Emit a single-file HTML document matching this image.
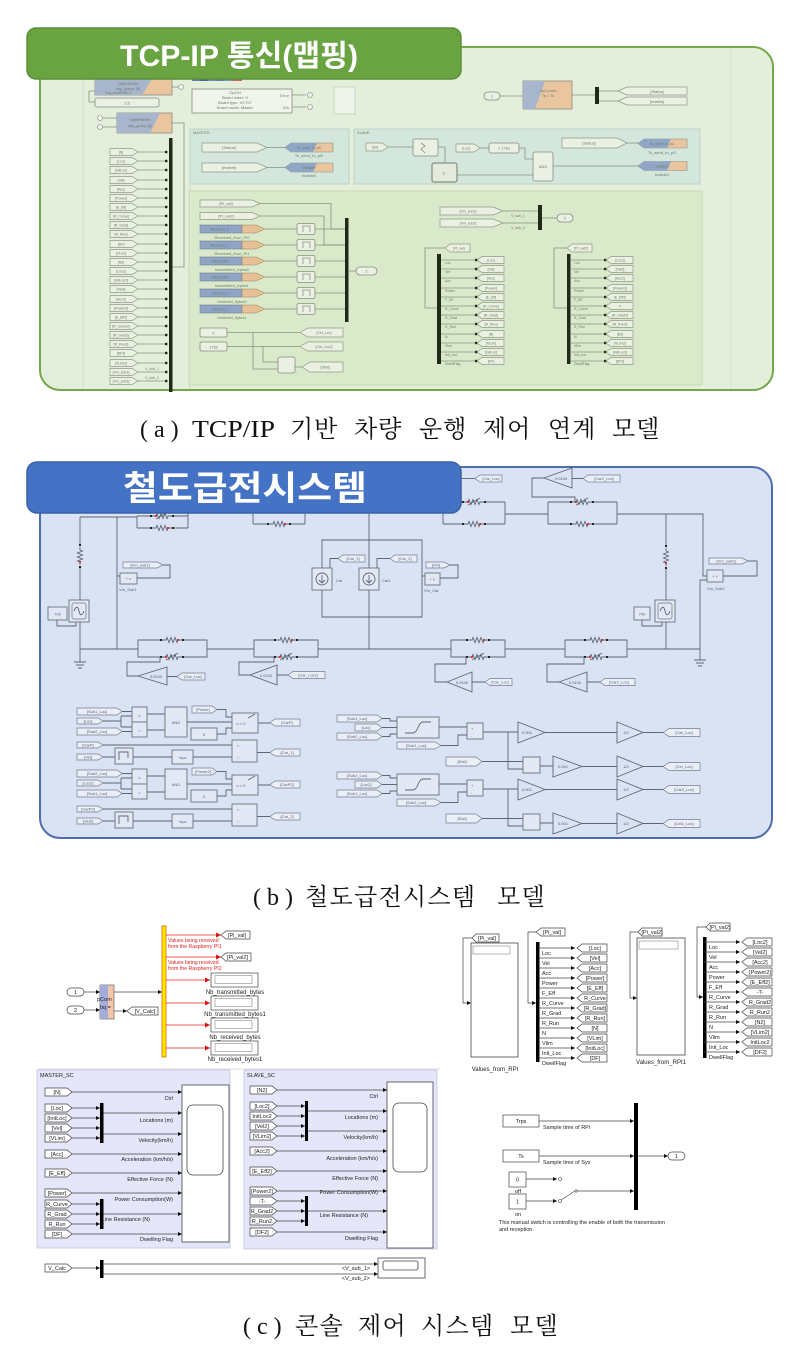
<!DOCTYPE html>
<html><head><meta charset="utf-8"><title>diagram</title>
<style>
html,body{margin:0;padding:0;background:#fff}
svg{display:block}
.cap{font-family:"Liberation Serif","Noto Serif CJK SC",serif;font-size:24px;fill:#111}
.hd{font-family:"Liberation Sans","Noto Sans CJK KR",sans-serif;font-weight:bold;fill:#fff}
.a4{font-size:4px;fill:#6f7a68}
.a35{font-size:3.5px;fill:#6f7a68}
.b4{font-size:4px;fill:#5a6272}
.c5{font-size:5.5px;fill:#222}
.c6{font-size:6px;fill:#222}
.rd{font-size:5.2px;fill:#e02020}
.wa{fill:none;stroke:#869480;stroke-width:0.8}
.wb{fill:none;stroke:#5d6675;stroke-width:0.9}
.wc{fill:none;stroke:#444;stroke-width:0.7}
.tga{fill:#eaf0e2;stroke:#8e9b87;stroke-width:0.7}
.tgb{fill:#e9eef7;stroke:#767e8e;stroke-width:0.7}
.tgc{fill:#fff;stroke:#444;stroke-width:0.7}
.blk{fill:#eaf0e4;stroke:#858d80;stroke-width:0.8}
.bbk{fill:#e3e9f4;stroke:#6a7282;stroke-width:0.9}
</style></head><body>
<svg width="794" height="1366" viewBox="0 0 794 1366" xmlns="http://www.w3.org/2000/svg" font-family="Liberation Sans, sans-serif">
<defs>
 <marker id="ak" viewBox="0 0 6 6" refX="6" refY="3" markerWidth="4" markerHeight="4" markerUnits="userSpaceOnUse" orient="auto"><path d="M0,0L6,3L0,6z" fill="#111"/></marker>
 <marker id="ar" viewBox="0 0 6 6" refX="6" refY="3" markerWidth="5" markerHeight="5" markerUnits="userSpaceOnUse" orient="auto"><path d="M0,0L6,3L0,6z" fill="#e01010"/></marker>
 <g id="tg"><path d="M0,-3.5h22l6,3.5l-6,3.5h-22z" class="tga"/><line x1="28" y1="0" x2="57" y2="0" class="wa"/><rect x="55" y="-1.2" width="2.4" height="2.4" fill="#222"/></g>
 <g id="dt"><line x1="0" y1="0" x2="36" y2="0" class="wa"/><rect x="34" y="-1.2" width="2.4" height="2.4" fill="#222"/><path d="M36,0l5,-3.5h22v7h-22z" class="tga"/></g>
 <g id="rs"><rect x="-8" y="-1.5" width="16" height="3" fill="#dae3f3"/><path d="M-9,0h3l1,-2.5l2,5l2,-5l2,5l2,-5l2,5l1,-2.5h3" class="wb"/><rect x="-12" y="-1" width="2" height="2" fill="#222"/><rect x="10" y="-1" width="2" height="2" fill="#222"/><rect x="5" y="-1" width="2" height="2" fill="#e03030"/></g>
 <g id="rv"><rect x="-8" y="-1.5" width="16" height="3" fill="#dae3f3"/><path d="M-9,0h3l1,-2.5l2,5l2,-5l2,5l2,-5l2,5l1,-2.5h3" class="wb"/><path d="M-6,3L6,-4" class="wb"/><rect x="-12" y="-1" width="2" height="2" fill="#222"/><rect x="10" y="-1" width="2" height="2" fill="#222"/><rect x="-7" y="-1" width="2" height="2" fill="#e03030"/></g>
 <g id="ct"><line x1="0" y1="0" x2="36" y2="0" class="wc" marker-end="url(#ak)"/><path d="M38,0l5,-4h25v8h-25z" class="tgc"/></g>
</defs>

<!-- ================= PART A ================= -->
<rect x="40" y="47" width="733" height="343" rx="20" fill="#e3efda" stroke="#74a84c" stroke-width="2"/>
<line x1="83" y1="79" x2="83" y2="389" stroke="#cadcbc" stroke-width="0.8"/>
<line x1="731" y1="48" x2="731" y2="389" stroke="#d0e2c3" stroke-width="0.8"/>
<line x1="190" y1="184" x2="190" y2="389" stroke="#c5d9b6" stroke-width="0.8"/>
<rect x="190" y="129" width="159" height="55" fill="#d3e7dc" stroke="#b7cfc0" stroke-width="0.8"/>
<rect x="354" y="129" width="346" height="55" fill="#d3e7dc" stroke="#b7cfc0" stroke-width="0.8"/>
<rect x="189" y="191" width="513" height="194" fill="#d9e9c9" stroke="#c2d6b0" stroke-width="0.8"/>

<!-- top-left blocks -->
<rect x="95" y="79" width="77" height="16" fill="#e9c6a0" stroke="#8b8b80" stroke-width="0.8"/>
<polygon points="95,79 152,79 142,95 95,95" fill="#a7b6cc"/>
<text x="128" y="85" class="a4" text-anchor="middle">OpWriteFile</text>
<text x="128" y="90" class="a4" text-anchor="middle">any_group (8)</text>
<text x="118" y="94" class="a35" text-anchor="middle">Trig_level/Path 0</text>
<line x1="172" y1="87" x2="178" y2="87" class="wa"/><circle cx="181" cy="87" r="2.5" fill="#f3f6ee" stroke="#888" stroke-width="0.6"/>
<path d="M95,91H89V102H95" class="wa"/>
<rect x="95" y="98" width="64" height="9" rx="2" class="blk"/><text x="127" y="104.5" class="a4" text-anchor="middle">1.5</text>
<rect x="192" y="77" width="8" height="4" fill="#5a7fb0"/><rect x="200" y="77" width="8" height="4" fill="#45679a"/><rect x="208" y="77" width="8" height="4" fill="#6b8fbf"/><rect x="216" y="77" width="8" height="4" fill="#5a7fb0"/><rect x="224" y="77" width="8" height="4" fill="#7b95b8"/><rect x="232" y="77" width="10" height="4" fill="#d06060"/>
<rect x="192" y="89" width="100" height="24" fill="#f0f4ea" stroke="#8b8b80" stroke-width="0.8"/>
<text x="235" y="94" class="a4" text-anchor="middle">OpCtrl</text>
<text x="235" y="99" class="a4" text-anchor="middle">Board index: 0</text>
<text x="235" y="104" class="a4" text-anchor="middle">Board type: VC707</text>
<text x="235" y="109" class="a4" text-anchor="middle">Board mode: Master</text>
<text x="289" y="97" class="a4" text-anchor="end">Error</text><text x="289" y="109" class="a4" text-anchor="end">IDs</text>
<path d="M292,95H306M292,107H306" class="wa"/>
<circle cx="310" cy="95" r="2.5" fill="#f3f6ee" stroke="#888" stroke-width="0.6"/><circle cx="310" cy="107" r="2.5" fill="#f3f6ee" stroke="#888" stroke-width="0.6"/>
<rect x="334" y="87" width="21" height="27" fill="#eef4ea" stroke="#c2cfba" stroke-width="0.8"/>
<rect x="117" y="113" width="55" height="20" fill="#e9c6a0" stroke="#8b8b80" stroke-width="0.8"/>
<polygon points="117,113 160,113 150,133 117,133" fill="#a7b6cc"/>
<text x="140" y="121" class="a4" text-anchor="middle">OpWriteFile</text><text x="140" y="127" class="a4" text-anchor="middle">any_group (8)</text>
<circle cx="100" cy="118" r="2.5" fill="#f3f6ee" stroke="#888" stroke-width="0.6"/><circle cx="100" cy="127" r="2.5" fill="#f3f6ee" stroke="#888" stroke-width="0.6"/>
<path d="M103,118H117M103,127H117" class="wa"/>
<path d="M172,123H184V267H172" class="wa"/>

<!-- column of tags -->
<use href="#tg" x="110" y="152"/><use href="#tg" x="110" y="161"/><use href="#tg" x="110" y="170"/><use href="#tg" x="110" y="180"/><use href="#tg" x="110" y="189"/><use href="#tg" x="110" y="198"/><use href="#tg" x="110" y="207"/><use href="#tg" x="110" y="216"/><use href="#tg" x="110" y="225"/><use href="#tg" x="110" y="234"/><use href="#tg" x="110" y="244"/><use href="#tg" x="110" y="253"/><use href="#tg" x="110" y="262"/><use href="#tg" x="110" y="271"/><use href="#tg" x="110" y="280"/><use href="#tg" x="110" y="289"/><use href="#tg" x="110" y="299"/><use href="#tg" x="110" y="308"/><use href="#tg" x="110" y="317"/><use href="#tg" x="110" y="326"/><use href="#tg" x="110" y="335"/><use href="#tg" x="110" y="344"/><use href="#tg" x="110" y="353"/><use href="#tg" x="110" y="363"/><use href="#tg" x="110" y="372"/><use href="#tg" x="110" y="381"/>
<g class="a35" text-anchor="middle">
<text x="121" y="153.3">[N]</text><text x="121" y="162.3">[Loc]</text><text x="121" y="171.3">[InitLoc]</text><text x="121" y="181.3">[Vel]</text><text x="121" y="190.3">[Acc]</text><text x="121" y="199.3">[Power]</text><text x="121" y="208.3">[E_Eff]</text><text x="121" y="217.3">[R_Curve]</text><text x="121" y="226.3">[R_Grad]</text><text x="121" y="235.3">[R_Run]</text><text x="121" y="245.3">[DF]</text><text x="121" y="254.3">[VLim]</text><text x="121" y="263.3">[N2]</text><text x="121" y="272.3">[Loc2]</text><text x="121" y="281.3">[InitLoc2]</text><text x="121" y="290.3">[Vel2]</text><text x="121" y="300.3">[Acc2]</text><text x="121" y="309.3">[Power2]</text><text x="121" y="318.3">[E_Eff2]</text><text x="121" y="327.3">[R_Curve2]</text><text x="121" y="336.3">[R_Grad2]</text><text x="121" y="345.3">[R_Run2]</text><text x="121" y="354.3">[DF2]</text><text x="121" y="364.3">[VLim2]</text><text x="121" y="373.3">[Vm_sub1]</text><text x="121" y="382.3">[Vm_sub2]</text>
<text x="152" y="370">V_sub_1</text><text x="152" y="379">V_sub_2</text>
</g>
<rect x="169" y="138" width="3.5" height="254" fill="#1f2b18"/>

<!-- MASTER -->
<text x="193" y="134" class="a4">MASTER</text>
<path d="M202,143h55l10,4.5l-10,4.5h-55z" class="tga"/><text x="229" y="149" class="a4" text-anchor="middle">[Status]</text>
<path d="M267,147.5H285" class="wa"/>
<path d="M285,147.5l6,-4.5h42v9h-42z" fill="#e9c6a0" stroke="#8b8b80" stroke-width="0.6"/><path d="M285,147.5l6,-4.5h26l-4,9h-22z" fill="#8fa6c6"/>
<text x="309" y="149" class="a35" text-anchor="middle">To_send_to_pi0</text><text x="309" y="157" class="a4" text-anchor="middle">To_send_to_pi0</text>
<path d="M202,163h55l10,4.5l-10,4.5h-55z" class="tga"/><text x="229" y="169" class="a4" text-anchor="middle">[enable]</text>
<path d="M267,167.5H285" class="wa"/>
<path d="M285,167.5l6,-4.5h42v9h-42z" fill="#e9c6a0" stroke="#8b8b80" stroke-width="0.6"/><path d="M285,167.5l6,-4.5h26l-4,9h-22z" fill="#8fa6c6"/>
<text x="309" y="169" class="a35" text-anchor="middle">enable0</text><text x="309" y="177" class="a4" text-anchor="middle">enable0</text>

<!-- SLAVE -->
<text x="357" y="134" class="a4">SLAVE</text>
<path d="M366,143h16l6,4l-6,4h-16z" class="tga"/><text x="375" y="148.5" class="a35" text-anchor="middle">[S0]</text>
<path d="M388,147H413" class="wa"/>
<rect x="413" y="139" width="25" height="17" rx="2" class="blk"/><path d="M421,143l4,3l-4,3l4,4" class="wa"/>
<path d="M438,147H445V163" class="wa"/>
<rect x="432" y="163" width="25" height="19" rx="2" fill="#e4ebdd" stroke="#707a6b" stroke-width="1"/><text x="444" y="175" class="a4" text-anchor="middle">F</text>
<path d="M457,175H533" class="wa"/>
<path d="M456,144h18l6,4l-6,4h-18z" class="tga"/><text x="466" y="149.5" class="a35" text-anchor="middle">[Loc]</text>
<path d="M480,148H489" class="wa"/>
<rect x="489" y="143" width="30" height="10" rx="2" class="blk"/><text x="504" y="149.5" class="a4" text-anchor="middle">&gt; 1781</text>
<path d="M519,148H525V159H533" class="wa"/>
<rect x="533" y="152" width="20" height="29" rx="2" class="blk"/><text x="543" y="168" class="a4" text-anchor="middle">AND</text>
<path d="M553,166H638" class="wa"/>
<path d="M562,138h55l10,5l-10,5h-55z" class="tga"/><text x="589" y="144.5" class="a4" text-anchor="middle">[Status]</text>
<path d="M627,143H638" class="wa"/>
<path d="M638,143.5l6,-4.5h43v9h-43z" fill="#e9c6a0" stroke="#8b8b80" stroke-width="0.6"/><path d="M638,143.5l6,-4.5h27l-4,9h-23z" fill="#8fa6c6"/>
<text x="662" y="145" class="a35" text-anchor="middle">To_send_to_pi1</text><text x="662" y="154" class="a4" text-anchor="middle">To_send_to_pi1</text>
<path d="M638,166l6,-4.5h43v9h-43z" fill="#e9c6a0" stroke="#8b8b80" stroke-width="0.6"/><path d="M638,166l6,-4.5h27l-4,9h-23z" fill="#8fa6c6"/>
<text x="662" y="167.5" class="a35" text-anchor="middle">enable1</text><text x="662" y="176" class="a4" text-anchor="middle">enable1</text>

<!-- top right -->
<rect x="484" y="92" width="16" height="8" rx="4" class="blk"/><text x="492" y="97.5" class="a4" text-anchor="middle">1</text>
<path d="M500,96H523" class="wa"/>
<rect x="523" y="81" width="49" height="28" fill="#e9c6a0" stroke="#8b8b80" stroke-width="0.8"/>
<polygon points="523,81 545,81 535,109 523,109" fill="#a7b6cc"/>
<text x="548" y="92" class="a4" text-anchor="middle">OpComm</text><text x="548" y="97" class="a4" text-anchor="middle">Ts = Ts</text>
<path d="M572,95H595" class="wa"/>
<rect x="595" y="87" width="4" height="17" fill="#1f2b18"/>
<path d="M599,91H618M599,101H618" class="wa"/>
<path d="M618,91l9,-4h60v8h-60z" class="tga"/><text x="657" y="93" class="a4" text-anchor="middle">[Status]</text>
<path d="M618,101l9,-4h60v8h-60z" class="tga"/><text x="657" y="103" class="a4" text-anchor="middle">[enable]</text>

<!-- lower box left -->
<path d="M200,200h52l8,3.5l-8,3.5h-52z" class="tga"/><text x="226" y="205" class="a4" text-anchor="middle">[Pi_val]</text>
<path d="M260,203.5H331V229H345" class="wa"/>
<path d="M200,212.5h52l8,3.5l-8,3.5h-52z" class="tga"/><text x="226" y="217.5" class="a4" text-anchor="middle">[Pi_val2]</text>
<path d="M260,216H324V245H345" class="wa"/>
<g>
<rect x="200" y="225" width="42" height="8" fill="#8ea5c5" stroke="#6f7f90" stroke-width="0.6"/><path d="M242,225h14l9,4l-9,4h-14z" fill="#e6bf95" stroke="#a08060" stroke-width="0.5"/>
<rect x="200" y="241" width="42" height="8" fill="#8ea5c5" stroke="#6f7f90" stroke-width="0.6"/><path d="M242,241h14l9,4l-9,4h-14z" fill="#e6bf95" stroke="#a08060" stroke-width="0.5"/>
<rect x="200" y="257" width="42" height="8" fill="#8ea5c5" stroke="#6f7f90" stroke-width="0.6"/><path d="M242,257h14l9,4l-9,4h-14z" fill="#e6bf95" stroke="#a08060" stroke-width="0.5"/>
<rect x="200" y="273" width="42" height="8" fill="#8ea5c5" stroke="#6f7f90" stroke-width="0.6"/><path d="M242,273h14l9,4l-9,4h-14z" fill="#e6bf95" stroke="#a08060" stroke-width="0.5"/>
<rect x="200" y="289" width="42" height="8" fill="#8ea5c5" stroke="#6f7f90" stroke-width="0.6"/><path d="M242,289h14l9,4l-9,4h-14z" fill="#e6bf95" stroke="#a08060" stroke-width="0.5"/>
<rect x="200" y="305" width="42" height="8" fill="#8ea5c5" stroke="#6f7f90" stroke-width="0.6"/><path d="M242,305h14l9,4l-9,4h-14z" fill="#e6bf95" stroke="#a08060" stroke-width="0.5"/>
</g>
<g class="a35" text-anchor="middle" fill="#445">
<text x="220" y="230.5">Received_0</text><text x="220" y="246.5">Received_1</text><text x="220" y="262.5">transmitted</text><text x="220" y="278.5">transmitted</text><text x="220" y="294.5">received_0</text><text x="220" y="310.5">received_1</text>
</g>
<g class="a4" text-anchor="middle">
<text x="232" y="239">Received_from_Pi0</text><text x="232" y="255">Received_from_Pi1</text><text x="232" y="271">transmitted_bytes0</text><text x="232" y="287">transmitted_bytes1</text><text x="232" y="303">received_bytes0</text><text x="232" y="319">received_bytes1</text>
</g>
<path d="M265,229H297M265,245H297M265,261H297M265,277H297M265,293H297M265,309H297" class="wa"/>
<path d="M315,229H345M315,245H345M315,261H345M315,277H345M315,293H345M315,309H345" class="wa"/>
<g>
<rect x="297" y="223.5" width="18" height="11" rx="2" class="blk"/><rect x="297" y="239.5" width="18" height="11" rx="2" class="blk"/><rect x="297" y="255.5" width="18" height="11" rx="2" class="blk"/><rect x="297" y="271.5" width="18" height="11" rx="2" class="blk"/><rect x="297" y="287.5" width="18" height="11" rx="2" class="blk"/><rect x="297" y="303.5" width="18" height="11" rx="2" class="blk"/>
<path d="M303,232V226H310V232M303,248V242H310V248M303,264V258H310V264M303,280V274H310V280M303,296V290H310V296M303,312V306H310V312" class="wa"/>
</g>
<rect x="345" y="218" width="3.5" height="104" fill="#1f2b18"/>
<path d="M348,271H356" class="wa"/><rect x="356" y="267" width="21" height="8" rx="4" class="blk"/><text x="366.5" y="272.5" class="a4" text-anchor="middle">1</text>
<rect x="200" y="328" width="27" height="9" rx="1.5" class="blk"/><text x="213.5" y="334.3" class="a4" text-anchor="middle">0</text>
<rect x="200" y="342" width="27" height="9" rx="1.5" class="blk"/><text x="213.5" y="348.3" class="a4" text-anchor="middle">1781</text>
<path d="M227,332.5H300M227,346.5H300M253,332.5V369H278M263,346.5V362H278" class="wa"/>
<path d="M300,332.5l8,-4.5h35v9h-35z" class="tga"/><text x="324" y="334" class="a35" text-anchor="middle">[Ctrl_Loc]</text>
<path d="M300,346.5l8,-4.5h35v9h-35z" class="tga"/><text x="324" y="348" class="a35" text-anchor="middle">[Ctrl_Loc2]</text>
<rect x="278" y="357" width="17" height="16" rx="2" class="blk"/>
<path d="M295,367H302" class="wa"/><path d="M302,367l8,-5h33v10h-33z" class="tga"/><text x="325" y="368.5" class="a4" text-anchor="middle">[Stat]</text>

<!-- lower box right -->
<path d="M440,207h53l10,4l-10,4h-53z" class="tga"/><text x="468" y="212.5" class="a35" text-anchor="middle">[Vm_sub1]</text>
<path d="M440,219h53l10,4l-10,4h-53z" class="tga"/><text x="468" y="224.5" class="a35" text-anchor="middle">[Vm_sub2]</text>
<path d="M503,211H538M503,223H538" class="wa"/>
<text x="518" y="217" class="a35" text-anchor="middle">V_sub_1</text><text x="518" y="229" class="a35" text-anchor="middle">V_sub_2</text>
<rect x="538" y="205" width="4" height="25" fill="#1f2b18"/>
<path d="M542,218H557" class="wa"/><rect x="557" y="214" width="16" height="8" rx="4" class="blk"/><text x="565" y="219.5" class="a4" text-anchor="middle">2</text>

<path d="M445,248l5,-4h20v8h-20z" class="tga"/><text x="459" y="249.5" class="a35" text-anchor="middle">[Pi_val]</text>
<path d="M445,248H425V308H437" class="wa"/>
<rect x="437" y="254" width="4" height="110" fill="#1f2b18"/>
<use href="#dt" x="441" y="260"/><use href="#dt" x="441" y="269"/><use href="#dt" x="441" y="278"/><use href="#dt" x="441" y="288"/><use href="#dt" x="441" y="297"/><use href="#dt" x="441" y="306"/><use href="#dt" x="441" y="315"/><use href="#dt" x="441" y="324"/><use href="#dt" x="441" y="334"/><use href="#dt" x="441" y="343"/><use href="#dt" x="441" y="352"/><use href="#dt" x="441" y="361"/>
<path d="M567,248l5,-4h20v8h-20z" class="tga"/><text x="581" y="249.5" class="a35" text-anchor="middle">[Pi_val2]</text>
<path d="M567,248H554V308H567" class="wa"/>
<rect x="567" y="254" width="3.5" height="110" fill="#1f2b18"/>
<use href="#dt" x="570" y="260"/><use href="#dt" x="570" y="269"/><use href="#dt" x="570" y="278"/><use href="#dt" x="570" y="288"/><use href="#dt" x="570" y="297"/><use href="#dt" x="570" y="306"/><use href="#dt" x="570" y="315"/><use href="#dt" x="570" y="324"/><use href="#dt" x="570" y="334"/><use href="#dt" x="570" y="343"/><use href="#dt" x="570" y="352"/><use href="#dt" x="570" y="361"/>
<g class="a35">
<text x="445" y="264">Loc</text><text x="445" y="273">Vel</text><text x="445" y="282">Acc</text><text x="445" y="292">Power</text><text x="445" y="301">F_Eff</text><text x="445" y="310">R_Curve</text><text x="445" y="319">R_Grad</text><text x="445" y="328">R_Run</text><text x="445" y="338">N</text><text x="445" y="347">Vlim</text><text x="445" y="356">Init_Loc</text><text x="445" y="365">DwellFlag</text>
<text x="574" y="264">Loc</text><text x="574" y="273">Vel</text><text x="574" y="282">Acc</text><text x="574" y="292">Power</text><text x="574" y="301">F_Eff</text><text x="574" y="310">R_Curve</text><text x="574" y="319">R_Grad</text><text x="574" y="328">R_Run</text><text x="574" y="338">N</text><text x="574" y="347">Vlim</text><text x="574" y="356">Init_Loc</text><text x="574" y="365">DwellFlag</text>
</g>
<g class="a35" text-anchor="middle">
<text x="491" y="261.3">[Loc]</text><text x="491" y="270.3">[Vel]</text><text x="491" y="279.3">[Acc]</text><text x="491" y="289.3">[Power]</text><text x="491" y="298.3">[E_Eff]</text><text x="491" y="307.3">[R_Curve]</text><text x="491" y="316.3">[R_Grad]</text><text x="491" y="325.3">[R_Run]</text><text x="491" y="335.3">[N]</text><text x="491" y="344.3">[VLim]</text><text x="491" y="353.3">[InitLoc]</text><text x="491" y="362.3">[DF]</text>
<text x="620" y="261.3">[Loc2]</text><text x="620" y="270.3">[Vel2]</text><text x="620" y="279.3">[Acc2]</text><text x="620" y="289.3">[Power2]</text><text x="620" y="298.3">[E_Eff2]</text><text x="620" y="307.3">-T-</text><text x="620" y="316.3">[R_Grad2]</text><text x="620" y="325.3">[R_Run2]</text><text x="620" y="335.3">[N2]</text><text x="620" y="344.3">[VLim2]</text><text x="620" y="353.3">[InitLoc2]</text><text x="620" y="362.3">[DF2]</text>
</g>

<!-- Green tab -->
<rect x="27" y="28" width="434" height="51" rx="9" fill="#6aa442" stroke="#5a8f38" stroke-width="1.5"/>
<text x="239" y="66" class="hd" font-size="30" text-anchor="middle" textLength="238" lengthAdjust="spacingAndGlyphs">TCP-IP 통신(맵핑)</text>

<g class="cap">
<text x="140" y="437" letter-spacing="6">(a)</text>
<text x="192" y="437" textLength="83" lengthAdjust="spacingAndGlyphs">TCP/IP</text>
<text x="290" y="437" letter-spacing="1">기반</text>
<text x="354" y="437" letter-spacing="1">차량</text>
<text x="419" y="437" letter-spacing="1">운행</text>
<text x="483" y="437" letter-spacing="1">제어</text>
<text x="548" y="437" letter-spacing="1">연계</text>
<text x="612" y="437" letter-spacing="1">모델</text>
</g>

<!-- ================= PART B ================= -->
<rect x="40" y="467" width="732" height="371" rx="20" fill="#dae3f3" stroke="#4d6dac" stroke-width="2"/>

<!-- top circuit -->
<path d="M80,517H137M137,516V528M188,516V528M188,516V508H253M253,503V524M305,503V524M305,508H443M443,502V524M505,502V524M505,514H548M548,502V524M617,502V524M617,514H703V576H707" class="wb"/>
<path d="M137,516H188M137,528H188M253,503H305M253,524H305M443,502H505M443,524H505M548,502H617M548,524H617" class="wb"/>
<use href="#rv" x="162" y="516"/><use href="#rs" x="162" y="528"/>
<use href="#rs" x="279" y="503"/><use href="#rs" x="279" y="524"/>
<use href="#rv" x="474" y="502"/><use href="#rs" x="474" y="524"/>
<use href="#rv" x="582" y="502"/><use href="#rs" x="582" y="524"/>
<polygon points="544,478 572,468 572,488" class="wb" fill="#dae3f3"/><text x="561" y="480" class="b4" text-anchor="middle">0.0100</text>
<path d="M572,478.5H583M544,478H532V497H575V502" class="wb"/>
<path d="M583,478.5l5,-3.5h32v7h-32z" class="tgb"/><text x="604" y="480" class="b4" text-anchor="middle">[Car2_Loc]</text>
<path d="M461,478.5H475" class="wb"/>
<path d="M475,478.5l5,-3.5h22v7h-22z" class="tgb"/><text x="491" y="480" class="b4" text-anchor="middle">[Car_Loc]</text>

<!-- left source -->
<path d="M80,517V545M80,568V600M80,622V662" class="wb"/>
<use href="#rs" x="80" y="556" transform="rotate(90 80 556)"/>
<rect x="69" y="600" width="20" height="22" class="bbk"/><rect x="72" y="603" width="14" height="16" rx="2" fill="none" stroke="#6a7282" stroke-width="0.7"/>
<path d="M74,611c2,-5 4,-5 5,0s3,5 5,0" class="wb"/>
<rect x="48" y="607" width="19" height="13" class="bbk"/><text x="57.5" y="615.5" class="b4" text-anchor="middle">700</text>
<path d="M57,620V626H76V622" class="wb"/>
<path d="M74,662H86M76,665H84M78,668H82" class="wb"/>
<path d="M117,517V649M117,576H120" class="wb"/>
<rect x="120" y="573" width="17" height="11" class="bbk"/><text x="128" y="580" class="b4" text-anchor="middle">+ v</text>
<path d="M123,562h34l6,3l-6,3h-34z" class="tgb"/><text x="140" y="566.5" class="b4" text-anchor="middle">[Vm_sub1]</text>
<path d="M163,565H170V578H137" class="wb"/>
<text x="119" y="591" class="b4">Vm_Sub1</text>

<!-- cars -->
<path d="M322,568V540H422V617H322V590M369,513V568M369,590V649" class="wb"/>
<rect x="312" y="568" width="20" height="22" class="bbk"/><circle cx="322" cy="579" r="6" class="wb" fill="#eef2f9"/><path d="M322,575V583M319,580l3,3l3,-3" class="wb"/>
<rect x="359" y="568" width="20" height="22" class="bbk"/><circle cx="369" cy="579" r="6" class="wb" fill="#eef2f9"/><path d="M369,575V583M366,580l3,3l3,-3" class="wb"/>
<text x="336" y="582" class="b4">Car</text><text x="382" y="582" class="b4">Car1</text>
<path d="M338,558.5l5,-3.5h22v7h-22z" class="tgb"/><text x="353" y="560" class="b4" text-anchor="middle">[Car_1]</text>
<path d="M338,558.5H330V568" class="wb"/>
<path d="M390,558.5l5,-3.5h22v7h-22z" class="tgb"/><text x="405" y="560" class="b4" text-anchor="middle">[Car_2]</text>
<path d="M390,558.5H377V568" class="wb"/>
<path d="M422,576H425" class="wb"/>
<rect x="425" y="573" width="15" height="12" class="bbk"/><text x="432" y="580.5" class="b4" text-anchor="middle">+ v</text>
<path d="M426,562h18l6,3l-6,3h-18z" class="tgb"/><text x="436" y="566.5" class="b4" text-anchor="middle">[Vm]</text>
<path d="M450,565H458V578H440" class="wb"/>
<text x="424" y="592" class="b4">Vm_Car</text>

<!-- right source -->
<path d="M666,514V545M666,568V600M666,622V649" class="wb"/>
<use href="#rs" x="666" y="557" transform="rotate(90 666 557)"/>
<rect x="655" y="600" width="20" height="22" class="bbk"/><rect x="658" y="603" width="14" height="16" rx="2" fill="none" stroke="#6a7282" stroke-width="0.7"/>
<path d="M660,611c2,-5 4,-5 5,0s3,5 5,0" class="wb"/>
<rect x="634" y="607" width="16" height="13" class="bbk"/><text x="642" y="615.5" class="b4" text-anchor="middle">700</text>
<path d="M642,620V626H662V622" class="wb"/>
<rect x="707" y="570" width="16" height="12" class="bbk"/><text x="715" y="577.5" class="b4" text-anchor="middle">+ v</text>
<path d="M709,558h33l6,3l-6,3h-33z" class="tgb"/><text x="726" y="562.5" class="b4" text-anchor="middle">[Vm_sub2]</text>
<path d="M748,561H757V576H723M700,580V660M700,580H707" class="wb"/>
<text x="707" y="590" class="b4">Vm_Sub2</text>
<path d="M694,660H706M696,663H704M698,666H702" class="wb"/>

<!-- bottom circuit -->
<path d="M80,649H138M207,649H254M318,649H451M505,649H565M627,649H700" class="wb"/>
<path d="M138,640V657H207V640ZM254,640V657H318V640ZM451,640V657H505V640ZM565,640V657H627V640Z" class="wb"/>
<use href="#rs" x="172" y="640"/><use href="#rv" x="172" y="657"/>
<use href="#rs" x="286" y="640"/><use href="#rv" x="286" y="657"/>
<use href="#rs" x="478" y="640"/><use href="#rv" x="478" y="657"/>
<use href="#rs" x="596" y="640"/><use href="#rv" x="596" y="657"/>
<polygon points="138,676 167,667 167,685" class="wb" fill="#dae3f3"/><text x="156" y="678" class="b4" text-anchor="middle">0.0100</text>
<path d="M167,676.5H177M138,676H127V662H160V657" class="wb"/>
<path d="M177,676.5l5,-3.5h23v7h-23z" class="tgb"/><text x="193" y="678" class="b4" text-anchor="middle">[Car_Loc]</text>
<polygon points="250,675 277,665 277,685" class="wb" fill="#dae3f3"/><text x="266" y="677" class="b4" text-anchor="middle">0.0100</text>
<path d="M277,675H288M250,675H239V662H274V657" class="wb"/>
<path d="M288,675l5,-3.5h32v7h-32z" class="tgb"/><text x="308" y="676.5" class="b4" text-anchor="middle">[Car_Loc2]</text>
<polygon points="447,682 472,672 472,692" class="wb" fill="#dae3f3"/><text x="462" y="684" class="b4" text-anchor="middle">0.0100</text>
<path d="M472,682H485M447,682H435V664H466V657" class="wb"/>
<path d="M485,682l5,-3.5h22v7h-22z" class="tgb"/><text x="500" y="683.5" class="b4" text-anchor="middle">[Car_Loc]</text>
<polygon points="559,682 587,672 587,692" class="wb" fill="#dae3f3"/><text x="575" y="684" class="b4" text-anchor="middle">0.0100</text>
<path d="M587,682H600M559,682H547V664H584V657" class="wb"/>
<path d="M600,682l5,-3.5h30v7h-30z" class="tgb"/><text x="619" y="683.5" class="b4" text-anchor="middle">[Car2_Loc]</text>

<!-- lower logic left (two sets) -->
<g>
<path d="M77,708h40l5,3.5l-5,3.5h-40z" class="tgb"/><text x="97" y="713" class="b4" text-anchor="middle">[Sub1_Loc]</text>
<path d="M77,718h21l5,3l-5,3h-21z" class="tgb"/><text x="88" y="722.5" class="b4" text-anchor="middle">[Loc]</text>
<path d="M77,728h40l5,3.5l-5,3.5h-40z" class="tgb"/><text x="97" y="733" class="b4" text-anchor="middle">[Sub2_Loc]</text>
<path d="M122,711.5H132M103,721H121M121,716V727M121,716H132M121,727H132M122,731.5H132M147,714H165M147,730H165M187,722H232M217,709.5H226V717H232M217,734H226V728H232M258,723H270" class="wb"/>
<rect x="132" y="707" width="15" height="15" class="bbk"/><text x="139.5" y="717" class="b4" text-anchor="middle">≤</text>
<rect x="132" y="722" width="15" height="15" class="bbk"/><text x="139.5" y="732" class="b4" text-anchor="middle">&lt;</text>
<rect x="165" y="707" width="22" height="30" class="bbk"/><text x="176" y="724" class="b4" text-anchor="middle">AND</text>
<path d="M192,706h20l5,3.5l-5,3.5h-20z" class="tgb"/><text x="203" y="711" class="b4" text-anchor="middle">[Power]</text>
<rect x="191" y="728" width="26" height="12" class="bbk"/><text x="204" y="736" class="b4" text-anchor="middle">0</text>
<rect x="232" y="713" width="26" height="20" class="bbk"/><text x="241" y="725" class="b4" text-anchor="middle">u &gt; 0</text><path d="M248,718l7,-4" class="wb"/>
<path d="M270,722.5l5,-3.5h25v7h-25z" class="tgb"/><text x="287" y="724" class="b4" text-anchor="middle">[CarP]</text>
<path d="M77,742h21l5,3l-5,3h-21z" class="tgb"/><text x="88" y="746.5" class="b4" text-anchor="middle">[CarP]</text>
<path d="M77,754h21l5,3l-5,3h-21z" class="tgb"/><text x="88" y="758.5" class="b4" text-anchor="middle">[Vel]</text>
<path d="M103,745H232M103,757H115M133,757H172M193,757H232M257,752.5H270" class="wb"/>
<rect x="115" y="748" width="18" height="16" class="bbk"/><path d="M119,760V752H128V758" class="wb"/>
<rect x="172" y="750" width="21" height="14" class="bbk"/><text x="182.5" y="759" class="b4" text-anchor="middle">*eps</text>
<rect x="232" y="740" width="25" height="22" class="bbk"/><text x="237" y="747" class="b4">×</text><text x="237" y="759" class="b4">÷</text>
<path d="M270,752.5l5,-3.5h25v7h-25z" class="tgb"/><text x="287" y="754" class="b4" text-anchor="middle">[Car_1]</text>
</g>
<g transform="translate(0,62)">
<path d="M77,708h40l5,3.5l-5,3.5h-40z" class="tgb"/><text x="97" y="713" class="b4" text-anchor="middle">[Sub2_Loc]</text>
<path d="M77,718h21l5,3l-5,3h-21z" class="tgb"/><text x="88" y="722.5" class="b4" text-anchor="middle">[Loc2]</text>
<path d="M77,728h40l5,3.5l-5,3.5h-40z" class="tgb"/><text x="97" y="733" class="b4" text-anchor="middle">[Sub1_Loc]</text>
<path d="M122,711.5H132M103,721H121M121,716V727M121,716H132M121,727H132M122,731.5H132M147,714H165M147,730H165M187,722H232M217,709.5H226V717H232M217,734H226V728H232M258,723H270" class="wb"/>
<rect x="132" y="707" width="15" height="15" class="bbk"/><text x="139.5" y="717" class="b4" text-anchor="middle">≤</text>
<rect x="132" y="722" width="15" height="15" class="bbk"/><text x="139.5" y="732" class="b4" text-anchor="middle">&lt;</text>
<rect x="165" y="707" width="22" height="30" class="bbk"/><text x="176" y="724" class="b4" text-anchor="middle">AND</text>
<path d="M192,706h20l5,3.5l-5,3.5h-20z" class="tgb"/><text x="203" y="711" class="b4" text-anchor="middle">[Power2]</text>
<rect x="191" y="728" width="26" height="12" class="bbk"/><text x="204" y="736" class="b4" text-anchor="middle">0</text>
<rect x="232" y="713" width="26" height="20" class="bbk"/><text x="241" y="725" class="b4" text-anchor="middle">u &gt; 0</text><path d="M248,718l7,-4" class="wb"/>
<path d="M270,722.5l5,-3.5h25v7h-25z" class="tgb"/><text x="287" y="724" class="b4" text-anchor="middle">[CarP2]</text>
<path d="M77,744h21l5,3l-5,3h-21z" class="tgb"/><text x="88" y="748.5" class="b4" text-anchor="middle">[CarP2]</text>
<path d="M77,756h21l5,3l-5,3h-21z" class="tgb"/><text x="88" y="760.5" class="b4" text-anchor="middle">[Vel2]</text>
<path d="M103,747H232M103,759H115M133,759H172M193,759H232M257,754.5H270" class="wb"/>
<rect x="115" y="750" width="18" height="16" class="bbk"/><path d="M119,762V754H128V760" class="wb"/>
<rect x="172" y="752" width="21" height="14" class="bbk"/><text x="182.5" y="761" class="b4" text-anchor="middle">*eps</text>
<rect x="232" y="742" width="25" height="22" class="bbk"/><text x="237" y="749" class="b4">×</text><text x="237" y="761" class="b4">÷</text>
<path d="M270,754.5l5,-3.5h25v7h-25z" class="tgb"/><text x="287" y="756" class="b4" text-anchor="middle">[Car_2]</text>
</g>

<!-- lower logic right (two sets) -->
<g>
<path d="M337,715h40l5,3.5l-5,3.5h-40z" class="tgb"/><text x="357" y="720" class="b4" text-anchor="middle">[Sub1_Loc]</text>
<path d="M355,724h22l5,3.5l-5,3.5h-22z" class="tgb"/><text x="366" y="729" class="b4" text-anchor="middle">[Loc]</text>
<path d="M337,733h40l5,3.5l-5,3.5h-40z" class="tgb"/><text x="357" y="738" class="b4" text-anchor="middle">[Sub2_Loc]</text>
<path d="M382,718.5H390V721H397M382,727.5H397M382,736.5H390V734H397M439,727H467M441,745.5H458V735H467M483,732H518M508,732V769H523M545,732.5H617M643,732.5H663M482,761.5H523M540,766H553M582,766.5H617M643,766.5H663" class="wb"/>
<rect x="397" y="717" width="42" height="21" class="bbk"/><path d="M405,733H413C418,733 418,722 423,722H431" class="wb"/>
<path d="M397,742h38l6,3.5l-6,3.5h-38z" class="tgb"/><text x="416" y="747" class="b4" text-anchor="middle">[Sub1_Loc]</text>
<rect x="467" y="723" width="16" height="16" class="bbk"/><text x="471" y="730" class="b4">+</text><text x="471" y="737" class="b4">-</text>
<polygon points="518,722 545,732.5 518,743" class="wb" fill="#dae3f3"/><text x="527" y="734" class="b4" text-anchor="middle">0.001</text>
<polygon points="617,722 643,732.5 617,743" class="wb" fill="#dae3f3"/><text x="626" y="734" class="b4" text-anchor="middle">1/2</text>
<path d="M663,732.5l6,-4h31v8h-31z" class="tgb"/><text x="684" y="734" class="b4" text-anchor="middle">[Car_Loc]</text>
<path d="M446,757h30l6,4.5l-6,4.5h-30z" class="tgb"/><text x="462" y="763" class="b4" text-anchor="middle">[Dist]</text>
<rect x="523" y="757" width="17" height="16" class="bbk"/>
<polygon points="553,756 582,766.5 553,777" class="wb" fill="#dae3f3"/><text x="563" y="768" class="b4" text-anchor="middle">0.001</text>
<polygon points="617,756 643,766.5 617,777" class="wb" fill="#dae3f3"/><text x="626" y="768" class="b4" text-anchor="middle">1/2</text>
<path d="M663,766.5l6,-4h31v8h-31z" class="tgb"/><text x="684" y="768" class="b4" text-anchor="middle">[Cel_Loc]</text>
</g>
<g transform="translate(0,57)">
<path d="M337,715h40l5,3.5l-5,3.5h-40z" class="tgb"/><text x="357" y="720" class="b4" text-anchor="middle">[Sub2_Loc]</text>
<path d="M355,724h22l5,3.5l-5,3.5h-22z" class="tgb"/><text x="366" y="729" class="b4" text-anchor="middle">[Loc2]</text>
<path d="M337,733h40l5,3.5l-5,3.5h-40z" class="tgb"/><text x="357" y="738" class="b4" text-anchor="middle">[Sub1_Loc]</text>
<path d="M382,718.5H390V721H397M382,727.5H397M382,736.5H390V734H397M439,727H467M441,745.5H458V735H467M483,732H518M508,732V769H523M545,732.5H617M643,732.5H663M482,761.5H523M540,766H553M582,766.5H617M643,766.5H663" class="wb"/>
<rect x="397" y="717" width="42" height="21" class="bbk"/><path d="M405,733H413C418,733 418,722 423,722H431" class="wb"/>
<path d="M397,742h38l6,3.5l-6,3.5h-38z" class="tgb"/><text x="416" y="747" class="b4" text-anchor="middle">[Sub2_Loc]</text>
<rect x="467" y="723" width="16" height="16" class="bbk"/><text x="471" y="730" class="b4">+</text><text x="471" y="737" class="b4">-</text>
<polygon points="518,722 545,732.5 518,743" class="wb" fill="#dae3f3"/><text x="527" y="734" class="b4" text-anchor="middle">0.001</text>
<polygon points="617,722 643,732.5 617,743" class="wb" fill="#dae3f3"/><text x="626" y="734" class="b4" text-anchor="middle">1/2</text>
<path d="M663,732.5l6,-4h31v8h-31z" class="tgb"/><text x="684" y="734" class="b4" text-anchor="middle">[Car2_Loc]</text>
<path d="M446,757h30l6,4.5l-6,4.5h-30z" class="tgb"/><text x="462" y="763" class="b4" text-anchor="middle">[Dist]</text>
<rect x="523" y="757" width="17" height="16" class="bbk"/>
<polygon points="553,756 582,766.5 553,777" class="wb" fill="#dae3f3"/><text x="563" y="768" class="b4" text-anchor="middle">0.001</text>
<polygon points="617,756 643,766.5 617,777" class="wb" fill="#dae3f3"/><text x="626" y="768" class="b4" text-anchor="middle">1/2</text>
<path d="M663,766.5l6,-4h31v8h-31z" class="tgb"/><text x="684" y="768" class="b4" text-anchor="middle">[Cel2_Loc]</text>
</g>

<!-- Blue tab -->
<rect x="27" y="462" width="434" height="51" rx="10" fill="#4472c4" stroke="#3a60a8" stroke-width="1.5"/>
<text x="245" y="500" class="hd" font-size="34" text-anchor="middle" textLength="244" lengthAdjust="spacingAndGlyphs">철도급전시스템</text>

<g class="cap">
<text x="253" y="905" letter-spacing="6">(b)</text>
<text x="305" y="905" letter-spacing="1.3">철도급전시스템</text>
<text x="497" y="905" letter-spacing="1.3">모델</text>
</g>

<!-- ================= PART C ================= -->
<!-- top-left comm -->
<rect x="67" y="988" width="17" height="8" rx="4" class="tgc"/><text x="75.5" y="994" class="c5" text-anchor="middle">1</text>
<rect x="67" y="1006" width="17" height="8" rx="4" class="tgc"/><text x="75.5" y="1012" class="c5" text-anchor="middle">2</text>
<line x1="84" y1="992" x2="100" y2="992" class="wc" marker-end="url(#ak)"/>
<line x1="84" y1="1010" x2="100" y2="1010" class="wc" marker-end="url(#ak)"/>
<rect x="100" y="985" width="14" height="34" fill="#f3c6aa" stroke="#666" stroke-width="0.7"/>
<rect x="100" y="985" width="8" height="34" fill="#a4acdc"/>
<text x="97" y="1001" class="c5">pCom</text><text x="100" y="1009" class="c5">bq =</text>
<line x1="114" y1="992" x2="162" y2="992" class="wc" marker-end="url(#ak)"/>
<line x1="114" y1="1011" x2="127" y2="1011" class="wc" marker-end="url(#ak)"/>
<path d="M127,1011l5,-4h26v8h-26z" class="tgc"/><text x="145" y="1013" class="c5" text-anchor="middle">[V_Calc]</text>
<rect x="162" y="926" width="4" height="131" fill="#ffe600" stroke="#d07000" stroke-width="0.8"/>
<g stroke="#e02020" stroke-width="0.8" fill="none">
<line x1="166" y1="935" x2="221" y2="935" marker-end="url(#ar)"/>
<line x1="166" y1="957" x2="221" y2="957" marker-end="url(#ar)"/>
<line x1="166" y1="980" x2="210" y2="980" marker-end="url(#ar)"/>
<line x1="166" y1="1003" x2="210" y2="1003" marker-end="url(#ar)"/>
<line x1="166" y1="1025" x2="210" y2="1025" marker-end="url(#ar)"/>
<line x1="166" y1="1048" x2="210" y2="1048" marker-end="url(#ar)"/>
</g>
<path d="M221,935l5,-4h24v8h-24z" class="tgc"/><text x="237" y="937" class="c5" text-anchor="middle">[Pi_val]</text>
<path d="M221,957l5,-4h25v8h-25z" class="tgc"/><text x="237.5" y="959" class="c5" text-anchor="middle">[Pi_val2]</text>
<text x="168" y="942" class="rd">Values being received</text><text x="168" y="948" class="rd">from the Raspberry PI1</text>
<text x="168" y="964" class="rd">Values being received</text><text x="168" y="970" class="rd">from the Raspberry PI2</text>
<g>
<rect x="211" y="973" width="47" height="14" class="tgc"/><rect x="215" y="975.5" width="37" height="8" fill="#fff" stroke="#888" stroke-width="0.6"/>
<rect x="211" y="996" width="47" height="14" class="tgc"/><rect x="215" y="998.5" width="37" height="8" fill="#fff" stroke="#888" stroke-width="0.6"/>
<rect x="211" y="1018" width="47" height="14" class="tgc"/><rect x="215" y="1020.5" width="37" height="8" fill="#fff" stroke="#888" stroke-width="0.6"/>
<rect x="211" y="1041" width="47" height="14" class="tgc"/><rect x="215" y="1043.5" width="37" height="8" fill="#fff" stroke="#888" stroke-width="0.6"/>
</g>
<g class="c6" text-anchor="middle">
<text x="235" y="994">Nb_transmitted_bytes</text><text x="235" y="1016">Nb_transmitted_bytes1</text><text x="235" y="1039">Nb_received_bytes</text><text x="235" y="1061">Nb_received_bytes1</text>
</g>
<line x1="38" y1="1069" x2="440" y2="1069" stroke="#dcdcdc" stroke-width="1"/>

<!-- MASTER_SC -->
<rect x="37" y="1070" width="193" height="178" fill="#e6e6fa" stroke="#c6c6de" stroke-width="0.8"/>
<text x="40" y="1077" class="c5">MASTER_SC</text>
<rect x="182" y="1085" width="47" height="157" fill="#fff" stroke="#444" stroke-width="0.8"/>
<rect x="187" y="1105" width="36" height="70" rx="6" fill="#fff" stroke="#444" stroke-width="0.8"/>
<g>
<path d="M45,1088h22l5,4l-5,4h-22z" class="tgc"/><path d="M45,1104h22l5,4l-5,4h-22z" class="tgc"/><path d="M45,1114h22l5,4l-5,4h-22z" class="tgc"/><path d="M45,1124h22l5,4l-5,4h-22z" class="tgc"/><path d="M45,1134h22l5,4l-5,4h-22z" class="tgc"/><path d="M45,1150h22l5,4l-5,4h-22z" class="tgc"/><path d="M45,1169h22l5,4l-5,4h-22z" class="tgc"/><path d="M45,1189h22l5,4l-5,4h-22z" class="tgc"/><path d="M45,1200h22l5,4l-5,4h-22z" class="tgc"/><path d="M45,1210h22l5,4l-5,4h-22z" class="tgc"/><path d="M45,1220h22l5,4l-5,4h-22z" class="tgc"/><path d="M45,1230h22l5,4l-5,4h-22z" class="tgc"/>
</g>
<g class="c5" text-anchor="middle">
<text x="57" y="1094">[N]</text><text x="57" y="1110">[Loc]</text><text x="57" y="1120">[InitLoc]</text><text x="57" y="1130">[Vel]</text><text x="57" y="1140">[VLim]</text><text x="57" y="1156">[Acc]</text><text x="57" y="1175">[E_Eff]</text><text x="57" y="1195">[Power]</text><text x="57" y="1206">R_Curve</text><text x="57" y="1216">R_Grad</text><text x="57" y="1226">R_Run</text><text x="57" y="1236">[DF]</text>
</g>
<g class="wc">
<line x1="72" y1="1092" x2="182" y2="1092" marker-end="url(#ak)"/>
<line x1="72" y1="1108" x2="100" y2="1108" marker-end="url(#ak)"/><line x1="72" y1="1118" x2="100" y2="1118" marker-end="url(#ak)"/>
<line x1="72" y1="1128" x2="100" y2="1128" marker-end="url(#ak)"/><line x1="72" y1="1138" x2="100" y2="1138" marker-end="url(#ak)"/>
<line x1="103" y1="1113" x2="182" y2="1113" marker-end="url(#ak)"/><line x1="103" y1="1134" x2="182" y2="1134" marker-end="url(#ak)"/>
<line x1="72" y1="1154" x2="182" y2="1154" marker-end="url(#ak)"/><line x1="72" y1="1173" x2="182" y2="1173" marker-end="url(#ak)"/><line x1="72" y1="1193" x2="182" y2="1193" marker-end="url(#ak)"/>
<line x1="72" y1="1204" x2="100" y2="1204" marker-end="url(#ak)"/><line x1="72" y1="1214" x2="100" y2="1214" marker-end="url(#ak)"/><line x1="72" y1="1224" x2="100" y2="1224" marker-end="url(#ak)"/>
<line x1="103" y1="1214" x2="182" y2="1214" marker-end="url(#ak)"/><line x1="72" y1="1234" x2="182" y2="1234" marker-end="url(#ak)"/>
</g>
<rect x="100" y="1103" width="3.5" height="40" fill="#000"/><rect x="100" y="1199" width="3.5" height="30" fill="#000"/>
<g class="c5" text-anchor="end">
<text x="173" y="1100">Ctrl</text><text x="173" y="1122">Locations (m)</text><text x="173" y="1142">Velocity(km/h)</text><text x="173" y="1161">Acceleration (km/h/s)</text><text x="173" y="1181">Effective Force (N)</text><text x="173" y="1201">Power Consumption(W)</text><text x="150" y="1221">Line Resistance (N)</text><text x="173" y="1241">Dwelling Flag</text>
</g>

<!-- SLAVE_SC -->
<rect x="244" y="1070" width="193" height="179" fill="#e6e6fa" stroke="#c6c6de" stroke-width="0.8"/>
<text x="247" y="1077" class="c5">SLAVE_SC</text>
<rect x="387" y="1082" width="46" height="166" fill="#fff" stroke="#444" stroke-width="0.8"/>
<rect x="393" y="1103" width="34" height="69" rx="6" fill="#fff" stroke="#444" stroke-width="0.8"/>
<g>
<path d="M250,1086h22l5,4l-5,4h-22z" class="tgc"/><path d="M250,1102h22l5,4l-5,4h-22z" class="tgc"/><path d="M250,1112h22l5,4l-5,4h-22z" class="tgc"/><path d="M250,1122h22l5,4l-5,4h-22z" class="tgc"/><path d="M250,1132h22l5,4l-5,4h-22z" class="tgc"/><path d="M250,1147h22l5,4l-5,4h-22z" class="tgc"/><path d="M250,1167h22l5,4l-5,4h-22z" class="tgc"/><path d="M250,1187h22l5,4l-5,4h-22z" class="tgc"/><path d="M250,1197h22l5,4l-5,4h-22z" class="tgc"/><path d="M250,1207h22l5,4l-5,4h-22z" class="tgc"/><path d="M250,1217h22l5,4l-5,4h-22z" class="tgc"/><path d="M250,1228h22l5,4l-5,4h-22z" class="tgc"/>
</g>
<g class="c5" text-anchor="middle">
<text x="262" y="1092">[N2]</text><text x="262" y="1108">[Loc2]</text><text x="262" y="1118">InitLoc2</text><text x="262" y="1128">[Vel2]</text><text x="262" y="1138">[VLim2]</text><text x="262" y="1153">[Acc2]</text><text x="262" y="1173">[E_Eff2]</text><text x="262" y="1193">[Power2]</text><text x="262" y="1203">-T-</text><text x="262" y="1213">R_Grad2</text><text x="262" y="1223">R_Run2</text><text x="262" y="1234">[DF2]</text>
</g>
<g class="wc">
<line x1="277" y1="1090" x2="387" y2="1090" marker-end="url(#ak)"/>
<line x1="277" y1="1106" x2="305" y2="1106" marker-end="url(#ak)"/><line x1="277" y1="1116" x2="305" y2="1116" marker-end="url(#ak)"/>
<line x1="277" y1="1126" x2="305" y2="1126" marker-end="url(#ak)"/><line x1="277" y1="1136" x2="305" y2="1136" marker-end="url(#ak)"/>
<line x1="308" y1="1111" x2="387" y2="1111" marker-end="url(#ak)"/><line x1="308" y1="1131" x2="387" y2="1131" marker-end="url(#ak)"/>
<line x1="277" y1="1151" x2="387" y2="1151" marker-end="url(#ak)"/><line x1="277" y1="1171" x2="387" y2="1171" marker-end="url(#ak)"/><line x1="277" y1="1191" x2="387" y2="1191" marker-end="url(#ak)"/>
<line x1="277" y1="1201" x2="305" y2="1201" marker-end="url(#ak)"/><line x1="277" y1="1211" x2="305" y2="1211" marker-end="url(#ak)"/><line x1="277" y1="1221" x2="305" y2="1221" marker-end="url(#ak)"/>
<line x1="308" y1="1211" x2="387" y2="1211" marker-end="url(#ak)"/><line x1="277" y1="1232" x2="387" y2="1232" marker-end="url(#ak)"/>
</g>
<rect x="305" y="1101" width="3" height="40" fill="#000"/><rect x="305" y="1196" width="3" height="30" fill="#000"/>
<g class="c5" text-anchor="end">
<text x="378" y="1098">Ctrl</text><text x="378" y="1119">Locations (m)</text><text x="378" y="1139">Velocity(km/h)</text><text x="378" y="1160">Acceleration (km/h/s)</text><text x="378" y="1180">Effective Force (N)</text><text x="378" y="1194">Power Consumption(W)</text><text x="368" y="1217">Line Resistance (N)</text><text x="378" y="1240">Dwelling Flag</text>
</g>

<!-- V_Calc scope -->
<path d="M45,1264h22l5,4l-5,4h-22z" class="tgc"/><text x="57" y="1270" class="c5" text-anchor="middle">V_Calc</text>
<line x1="72" y1="1268" x2="100" y2="1268" class="wc" marker-end="url(#ak)"/>
<rect x="100" y="1260" width="3.5" height="18" fill="#000"/>
<line x1="103" y1="1264" x2="378" y2="1264" class="wc" marker-end="url(#ak)"/>
<line x1="103" y1="1274" x2="378" y2="1274" class="wc" marker-end="url(#ak)"/>
<text x="370" y="1270" class="c5" text-anchor="end">&lt;V_sub_1&gt;</text><text x="370" y="1280" class="c5" text-anchor="end">&lt;V_sub_2&gt;</text>
<rect x="378" y="1258" width="47" height="20" fill="#fff" stroke="#444" stroke-width="0.8"/>
<rect x="383" y="1261" width="35" height="9" rx="2" fill="#fff" stroke="#444" stroke-width="0.8"/>

<!-- Values_from_RPI -->
<rect x="471" y="943" width="47" height="114" fill="#fff" stroke="#444" stroke-width="0.8"/>
<rect x="473" y="946" width="37" height="8" fill="#fff" stroke="#888" stroke-width="0.6"/>
<path d="M472,938l4,-4h23v8h-23z" class="tgc"/><text x="487" y="940" class="c5" text-anchor="middle">[Pi_val]</text>
<path d="M472,938H463V1003H471" class="wc" marker-end="url(#ak)"/>
<text x="495" y="1071" class="c6" text-anchor="middle">Values_from_RPI</text>
<rect x="536" y="942" width="3.5" height="120" fill="#000"/>
<path d="M536,932l5,-4h24v8h-24z" class="tgc"/><text x="552" y="934" class="c5" text-anchor="middle">[Pi_val]</text>
<path d="M536,932H528V1003H536" class="wc" marker-end="url(#ak)"/>
<use href="#ct" x="539" y="948"/><use href="#ct" x="539" y="958"/><use href="#ct" x="539" y="968"/><use href="#ct" x="539" y="978"/><use href="#ct" x="539" y="988"/><use href="#ct" x="539" y="998"/><use href="#ct" x="539" y="1008"/><use href="#ct" x="539" y="1018"/><use href="#ct" x="539" y="1028"/><use href="#ct" x="539" y="1038"/><use href="#ct" x="539" y="1048"/><use href="#ct" x="539" y="1058"/>
<g class="c5">
<text x="542" y="955">Loc</text><text x="542" y="965">Vel</text><text x="542" y="975">Acc</text><text x="542" y="985">Power</text><text x="542" y="995">F_Eff</text><text x="542" y="1005">R_Curve</text><text x="542" y="1015">R_Grad</text><text x="542" y="1025">R_Run</text><text x="542" y="1035">N</text><text x="542" y="1045">Vlim</text><text x="542" y="1055">Init_Loc</text><text x="542" y="1065">DwellFlag</text>
</g>
<g class="c5" text-anchor="middle">
<text x="595" y="950">[Loc]</text><text x="595" y="960">[Vel]</text><text x="595" y="970">[Acc]</text><text x="595" y="980">[Power]</text><text x="595" y="990">[E_Eff]</text><text x="595" y="1000">R_Curve</text><text x="595" y="1010">[R_Grad]</text><text x="595" y="1020">[R_Run]</text><text x="595" y="1030">[N]</text><text x="595" y="1040">[VLim]</text><text x="595" y="1050">[InitLoc]</text><text x="595" y="1060">[DF]</text>
</g>

<!-- Values_from_RPI1 -->
<rect x="637" y="938" width="48" height="117" fill="#fff" stroke="#444" stroke-width="0.8"/>
<rect x="639" y="941" width="39" height="8" fill="#fff" stroke="#888" stroke-width="0.6"/>
<path d="M638,932l4,-4h20v8h-20z" class="tgc"/><text x="652" y="934" class="c5" text-anchor="middle">[Pi_val2]</text>
<path d="M638,932H630V998H637" class="wc" marker-end="url(#ak)"/>
<text x="661" y="1064" class="c6" text-anchor="middle">Values_from_RPI1</text>
<rect x="703" y="937" width="3.5" height="121" fill="#000"/>
<path d="M706,927l4,-4h20v8h-20z" class="tgc"/><text x="720" y="929" class="c5" text-anchor="middle">[Pi_val2]</text>
<path d="M706,927H697V997H703" class="wc" marker-end="url(#ak)"/>
<use href="#ct" x="704" y="942"/><use href="#ct" x="704" y="952"/><use href="#ct" x="704" y="962"/><use href="#ct" x="704" y="972"/><use href="#ct" x="704" y="982"/><use href="#ct" x="704" y="992"/><use href="#ct" x="704" y="1002"/><use href="#ct" x="704" y="1012"/><use href="#ct" x="704" y="1022"/><use href="#ct" x="704" y="1032"/><use href="#ct" x="704" y="1042"/><use href="#ct" x="704" y="1052"/>
<g class="c5">
<text x="709" y="949">Loc</text><text x="709" y="959">Vel</text><text x="709" y="969">Acc</text><text x="709" y="979">Power</text><text x="709" y="989">F_Eff</text><text x="709" y="999">R_Curve</text><text x="709" y="1009">R_Grad</text><text x="709" y="1019">R_Run</text><text x="709" y="1029">N</text><text x="709" y="1039">Vlim</text><text x="709" y="1049">Init_Loc</text><text x="709" y="1059">DwellFlag</text>
</g>
<g class="c5" text-anchor="middle">
<text x="760" y="944">[Loc2]</text><text x="760" y="954">[Vel2]</text><text x="760" y="964">[Acc2]</text><text x="760" y="974">[Power2]</text><text x="760" y="984">[E_Eff2]</text><text x="760" y="994">-T-</text><text x="760" y="1004">R_Grad2</text><text x="760" y="1014">R_Run2</text><text x="760" y="1024">[N2]</text><text x="760" y="1034">[VLim2]</text><text x="760" y="1044">InitLoc2</text><text x="760" y="1054">[DF2]</text>
</g>

<!-- sample time / switch -->
<rect x="503" y="1115" width="36" height="12" class="tgc"/><text x="521" y="1123" class="c5" text-anchor="middle">Trps</text>
<line x1="539" y1="1121" x2="634" y2="1121" class="wc" marker-end="url(#ak)"/>
<text x="543" y="1129" class="c5">Sample time of RPi</text>
<rect x="503" y="1150" width="36" height="12" class="tgc"/><text x="521" y="1158" class="c5" text-anchor="middle">Ts</text>
<line x1="539" y1="1156" x2="634" y2="1156" class="wc" marker-end="url(#ak)"/>
<text x="543" y="1164" class="c5">Sample time of Sys</text>
<rect x="634" y="1103" width="4" height="107" fill="#000"/>
<line x1="638" y1="1156" x2="668" y2="1156" class="wc" marker-end="url(#ak)"/>
<rect x="668" y="1152" width="17" height="8" rx="4" class="tgc"/><text x="676.5" y="1158" class="c5" text-anchor="middle">1</text>
<rect x="509" y="1172" width="17" height="15" class="tgc"/><text x="517.5" y="1181.5" class="c5" text-anchor="middle">0</text>
<rect x="509" y="1194" width="17" height="15" class="tgc"/><text x="517.5" y="1203.5" class="c5" text-anchor="middle">1</text>
<text x="518" y="1193" class="c5" text-anchor="middle">off</text><text x="518" y="1216" class="c5" text-anchor="middle">on</text>
<line x1="526" y1="1179" x2="557" y2="1179" class="wc" marker-end="url(#ak)"/>
<line x1="526" y1="1201" x2="557" y2="1201" class="wc" marker-end="url(#ak)"/>
<circle cx="560" cy="1179" r="1.5" fill="#fff" stroke="#444" stroke-width="0.6"/>
<circle cx="560" cy="1201" r="1.5" fill="#fff" stroke="#444" stroke-width="0.6"/>
<path d="M561,1200L575,1191" class="wc"/>
<circle cx="576" cy="1191" r="1.2" fill="#fff" stroke="#444" stroke-width="0.6"/>
<line x1="577" y1="1191" x2="634" y2="1191" class="wc" marker-end="url(#ak)"/>
<text x="499" y="1224" class="c5">This manual switch is controlling the enable of both the transmission</text>
<text x="499" y="1231" class="c5">and reception.</text>

<g class="cap">
<text x="243" y="1334" letter-spacing="6">(c)</text>
<text x="295" y="1334" letter-spacing="1.3">콘솔</text>
<text x="358" y="1334" letter-spacing="1.3">제어</text>
<text x="421" y="1334" letter-spacing="1.3">시스템</text>
<text x="510" y="1334" letter-spacing="1.3">모델</text>
</g>
</svg>
</body></html>
